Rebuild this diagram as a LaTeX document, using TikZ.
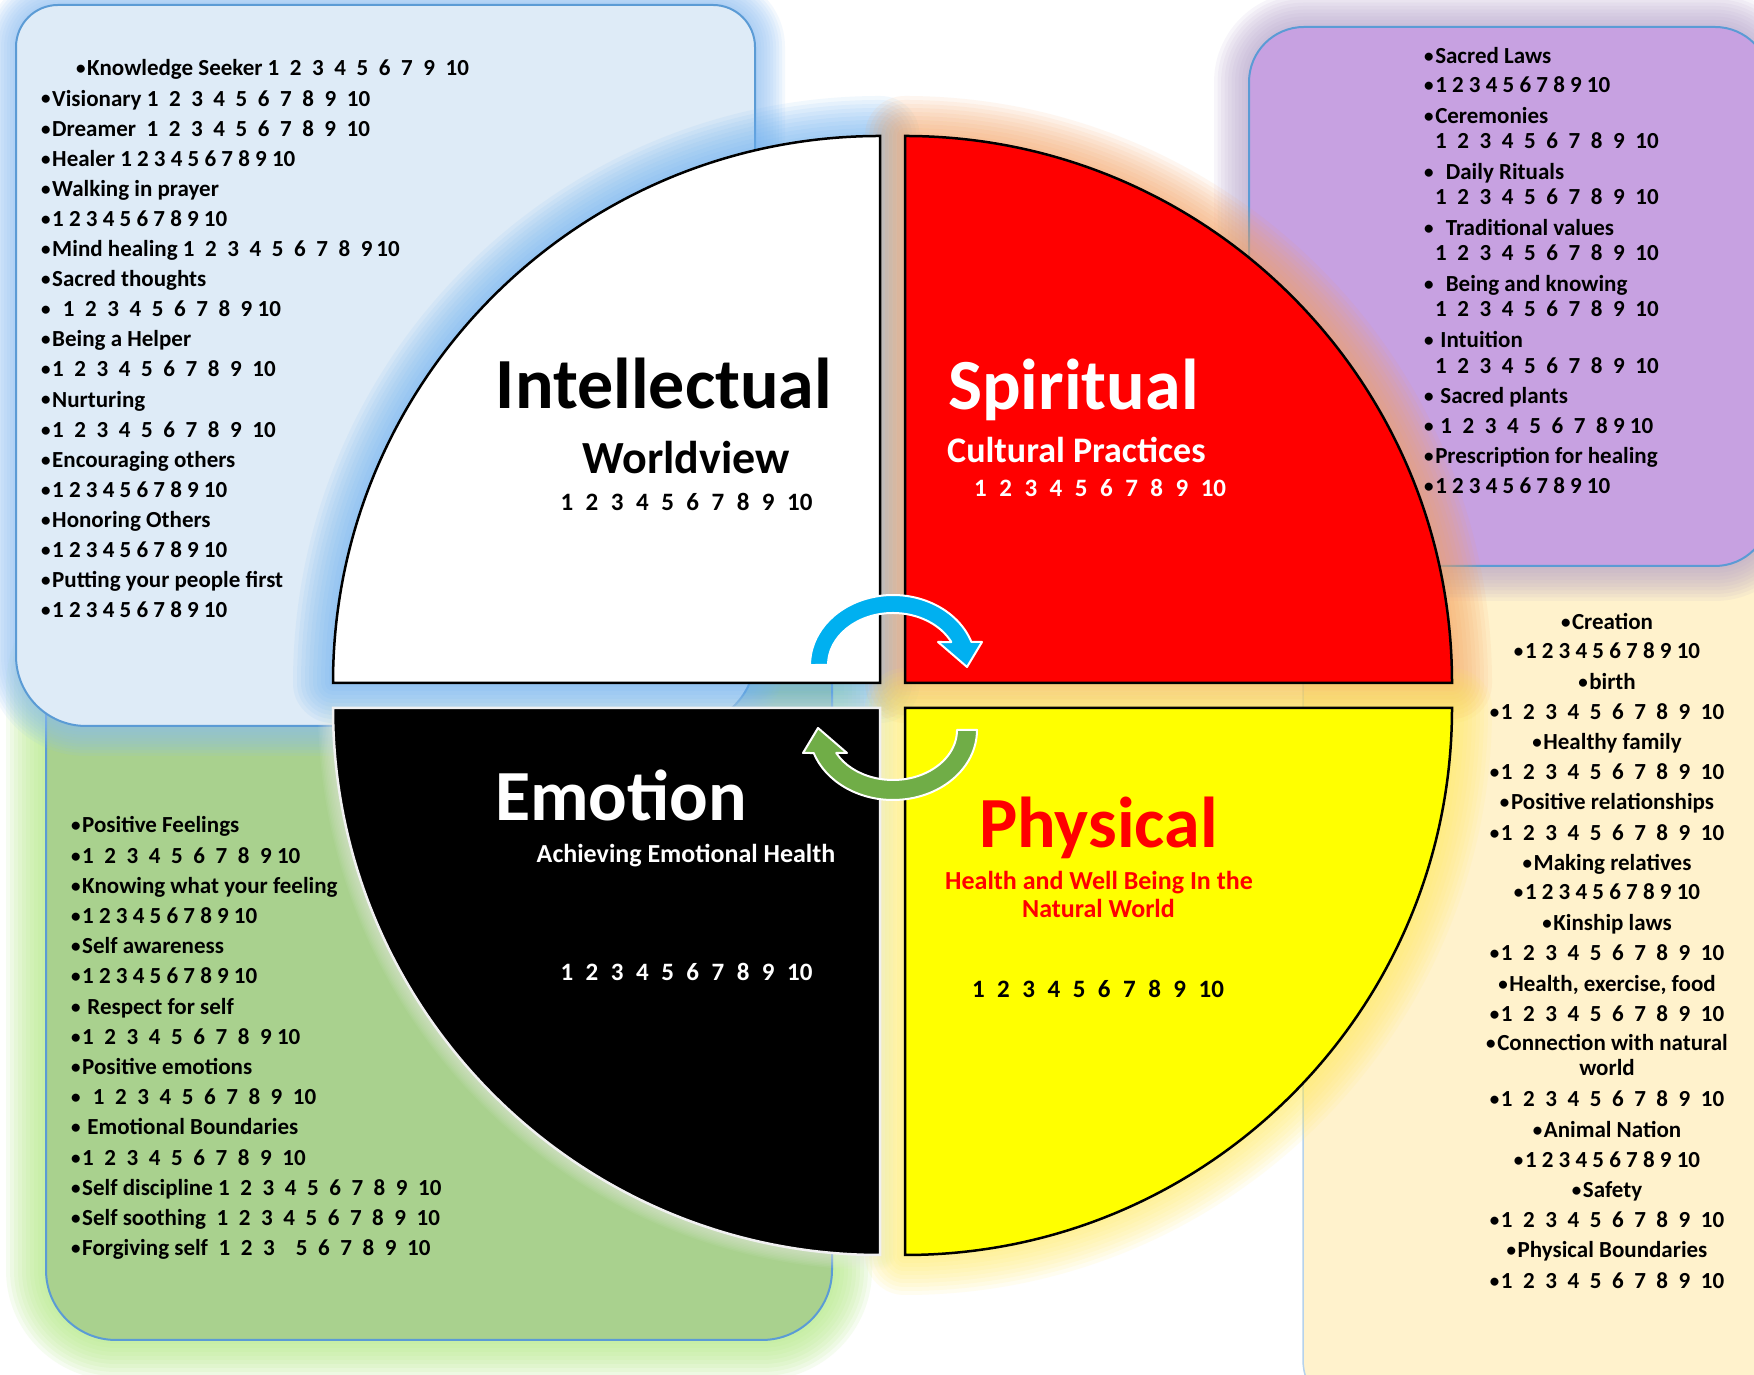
\documentclass[tikz,border=0pt]{standalone}
\usepackage{fontspec}
\setmainfont{Carlito}
\definecolor{boxblue}{RGB}{222,235,247}
\definecolor{edgeblue}{RGB}{91,155,213}
\definecolor{boxgreen}{RGB}{169,209,142}
\definecolor{boxpurple}{RGB}{199,161,225}
\definecolor{boxcream}{RGB}{255,242,204}
\definecolor{glowblue}{RGB}{110,178,242}
\definecolor{gloworange}{RGB}{248,160,90}
\definecolor{glowyellow}{RGB}{255,236,90}
\definecolor{glowgreen}{RGB}{185,236,140}
\definecolor{glowpurple}{RGB}{175,155,200}
\definecolor{glowlb}{RGB}{140,190,245}
\definecolor{glowwhite}{RGB}{235,238,230}
\definecolor{arrblue}{RGB}{0,176,240}
\definecolor{arrgreen}{RGB}{112,173,71}
\definecolor{pred}{RGB}{255,0,0}
\definecolor{pyellow}{RGB}{255,255,0}
\newcommand\W{\hspace{0.46em}}
\newcommand\Wc{\hspace{0.5em}}
\newcommand\B{\makebox[0.48em][l]{\raisebox{1.1pt}{\fontsize{19}{19}\selectfont •}}}
\newcommand\numW{1\W2\W3\W4\W5\W6\W7\W8\W9\W10}
\newcommand\numT{1 2 3 4 5 6 7 8 9 10}
\newcommand\numC{1\Wc2\Wc3\Wc4\Wc5\Wc6\Wc7\Wc8\Wc9\Wc10}
\newcommand\glowit[4]{\foreach \k in {1,...,10}{\path[#1, draw=#2, line width=\k*#3, opacity=#4, line join=round];}}
\tikzset{
  bgreen/.style={rounded corners=70pt, insert path={(46,35) rectangle (832,760)}},
  bblue/.style={insert path={(16,719) -- (16,1328) arc[start angle=180,end angle=90,radius=42pt]
      -- (713,1370) arc[start angle=90,end angle=0,radius=42pt] -- (755,719)
      arc[start angle=0,end angle=-90,radius=70pt] -- (86,649)
      arc[start angle=270,end angle=180,radius=70pt] -- cycle}},
  bpurple/.style={rounded corners=55pt, insert path={(1249,809) rectangle (1770,1348)}},
  bcream/.style={rounded corners=55pt, insert path={(1303,-40) rectangle (1800,840)}},
  qwhite/.style={insert path={(880,692) -- (333,692) arc[start angle=180,end angle=90,radius=547pt] -- cycle}},
  qred/.style={insert path={(905,692) -- (905,1239) arc[start angle=90,end angle=0,radius=547pt] -- cycle}},
  qblack/.style={insert path={(880,667) -- (333,667) arc[start angle=180,end angle=270,radius=547pt] -- cycle}},
  qyellow/.style={insert path={(905,667) -- (905,120) arc[start angle=270,end angle=360,radius=547pt] -- cycle}},
  boxtext/.style={font=\bfseries\fontsize{23}{28}\selectfont, inner sep=0pt, text=black},
  bigtitle/.style={font=\bfseries\fontsize{72}{80}\selectfont, inner sep=0pt, anchor=base},
  subtitle/.style={font=\bfseries\fontsize{26}{30}\selectfont, inner sep=0pt, anchor=base},
  cnum/.style={font=\bfseries\fontsize{25}{30}\selectfont, inner sep=0pt, anchor=base},
  arrowshape/.style={draw=white, line width=2pt, line join=round}
}
\begin{document}
\begin{tikzpicture}[x=1pt,y=1pt]
\useasboundingbox (0,0) rectangle (1754,1375);
\fill[white] (0,0) rectangle (1754,1375);
% cream box
\path[bcream, fill=boxcream, draw=edgeblue!45, line width=1.5pt];
% green box
\glowit{bgreen}{glowgreen}{8pt}{0.13}
\path[bgreen, fill=boxgreen, draw=edgeblue, line width=2pt];
% blue box
\glowit{bblue}{glowlb}{6pt}{0.1}
\path[bblue, fill=boxblue, draw=edgeblue, line width=2pt];
% purple box
\glowit{bpurple}{glowpurple}{7pt}{0.09}
\path[bpurple, fill=boxpurple, draw=edgeblue, line width=2pt];
% quadrant glows
\glowit{qblack}{glowwhite}{3pt}{0.075}
\glowit{qwhite}{glowblue}{8pt}{0.09}
\glowit{qred}{gloworange}{8pt}{0.085}
\glowit{qyellow}{glowyellow}{8pt}{0.085}
% quadrants
\path[qwhite, fill=white, draw=black, line width=2.5pt];
\path[qred, fill=pred, draw=black, line width=2.5pt];
\path[qblack, fill=black, draw=white!88!gray, line width=2.5pt];
\path[qyellow, fill=pyellow, draw=black, line width=2.5pt];

% left blue box text
\node[boxtext, anchor=base west] (lb0) at (76,1299) {\B{}Knowledge Seeker 1\W2\W3\W4\W5\W6\W7\W9\W10};
\foreach \t [count=\i from 1] in {
  {\B{}Visionary \numW},
  {\B{}Dreamer\W\numW},
  {\B{}Healer \numT},
  {\B{}Walking in prayer},
  {\B\numT},
  {\B{}Mind healing 1\W2\W3\W4\W5\W6\W7\W8\W9\,10},
  {\B{}Sacred thoughts},
  {\B\W1\W2\W3\W4\W5\W6\W7\W8\W9 10},
  {\B{}Being a Helper},
  {\B\numW},
  {\B{}Nurturing},
  {\B\numW},
  {\B{}Encouraging others},
  {\B\numT},
  {\B{}Honoring Others},
  {\B\numT},
  {\B{}Putting your people first},
  {\B\numT}}
  \node[boxtext, anchor=base west] (lb\i) at (41,{1299-30.1*\i}) {\t};

% green box text
\foreach \t [count=\i from 0] in {
  {\B{}Positive Feelings},
  {\B{}1\W2\W3\W4\W5\W6\W7\W8\W9 10},
  {\B{}Knowing what your feeling},
  {\B\numT},
  {\B{}Self awareness},
  {\B\numT},
  {\B{} Respect for self},
  {\B{}1\W2\W3\W4\W5\W6\W7\W8\W9 10},
  {\B{}Positive emotions},
  {\B\W\numW},
  {\B{} Emotional Boundaries},
  {\B\numW},
  {\B{}Self discipline \numW},
  {\B{}Self soothing\W\numW},
  {\B{}Forgiving self\W1\W2\W3\W\W5\W6\W7\W8\W9\W10}}
  \node[boxtext, anchor=base west] (lg\i) at (71,{542-30.2*\i}) {\t};

% purple box text
\foreach \xx/\yc/\t [count=\i] in {
  1424/57/{\B{}Sacred Laws},
  1424/86/{\B\numT},
  1424/117/{\B{}Ceremonies},
  1435/142/{\numW},
  1424/173/{\B\W{}Daily Rituals},
  1435/198/{\numW},
  1424/229/{\B\W{}Traditional values},
  1435/254/{\numW},
  1424/285/{\B\W{}Being and knowing},
  1435/310/{\numW},
  1424/341/{\B{} Intuition},
  1435/367/{\numW},
  1424/397/{\B{} Sacred plants},
  1424/427/{\B{} 1\W2\W3\W4\W5\W6\W7\W8 9 10},
  1424/457/{\B{}Prescription for healing},
  1424/487/{\B\numT}}
  \node[boxtext, anchor=base west] (lp\i) at (\xx,{1368-\yc}) {\t};

% cream box text
\foreach \yc/\t [count=\i] in {
  623/{\B{}Creation},
  652/{\B\numT},
  683/{\B{}birth},
  713/{\B\numW},
  743/{\B{}Healthy family},
  773/{\B\numW},
  803/{\B{}Positive relationships},
  834/{\B\numW},
  864/{\B{}Making relatives},
  893/{\B\numT},
  924/{\B{}Kinship laws},
  954/{\B\numW},
  985/{\B{}Health, exercise, food},
  1015/{\B\numW},
  1044/{\B{}Connection with natural},
  1069/{world},
  1100/{\B\numW},
  1131/{\B{}Animal Nation},
  1161/{\B\numT},
  1191/{\B{}Safety},
  1221/{\B\numW},
  1251/{\B{}Physical Boundaries},
  1282/{\B\numW}}
  \node[boxtext, anchor=base] (lc\i) at (1607,{1368-\yc}) {\t};

% central texts
\node[bigtitle, text=black] (intel) at (664,966) {Intellectual};
\node[font=\bfseries\fontsize{46}{52}\selectfont, inner sep=0pt, anchor=base, text=black] (intelsub) at (686,901) {Worldview};
\node[cnum, text=black] (intelnum) at (686.5,864) {\numC};

\node[bigtitle, anchor=base west, text=white] (spirit) at (948,965) {Spiritual};
\node[font=\bfseries\fontsize{36}{40}\selectfont, inner sep=0pt, anchor=base west, text=white] (spiritsub) at (947,912) {Cultural Practices};
\node[cnum, anchor=base west, text=white] (spiritnum) at (974,878) {\numC};

\node[bigtitle, text=white] (emo) at (621,554) {Emotion};
\node[subtitle, text=white] (emosub) at (686,512) {Achieving Emotional Health};
\node[cnum, text=white] (emonum) at (686.5,394) {\numC};

\node[bigtitle, text=pred] (phys) at (1098.5,527) {Physical};
\node[subtitle, text=pred] (physsub) at (1099,485) {Health and Well Being In the};
\node[subtitle, text=pred] (physsubb) at (1098.5,457) {Natural World};
\node[cnum, text=black] (physnum) at (1098,377) {\numC};

% circular arrows
\path[arrowshape, fill=arrblue]
  (828,710) arc[start angle=180, end angle=26.2, x radius=65pt, y radius=52pt]
  -- (938,733) -- (967,708) -- (982,733) -- (971.4,733)
  arc[start angle=19.2, end angle=180, x radius=83pt, y radius=70pt] -- cycle;
\path[arrowshape, fill=arrgreen]
  (977,645) arc[start angle=0, end angle=-160.8, x radius=84pt, y radius=70pt]
  -- (803,622) -- (818,647) -- (847,622) -- (836.2,622)
  arc[start angle=-152.6, end angle=0, x radius=64pt, y radius=50pt] -- cycle;
\end{tikzpicture}
\end{document}
